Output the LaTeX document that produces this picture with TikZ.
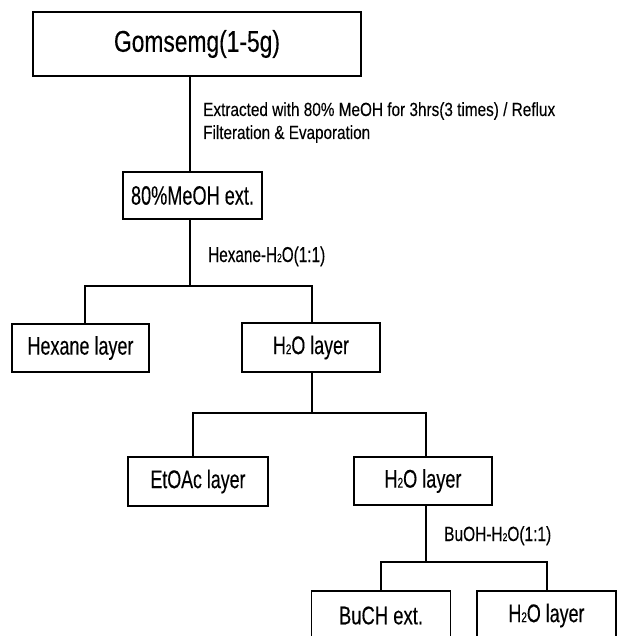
\documentclass[tikz,border=0pt]{standalone}
\usepackage{fontspec}
\setmainfont[FakeBold=0.3]{Liberation Sans}
\usepackage{graphicx}
\newcommand{\fw}[3]{\resizebox{#1pt}{\height}{\fontsize{#2}{#2}\selectfont #3}}
\newcommand{\hto}{H\scalebox{0.55}{2}O}
\tikzset{
  box/.style={draw, line width=1.3pt, inner sep=0pt, minimum height=48pt},
  conn/.style={line width=1.2pt},
  lab/.style={anchor=base west, inner sep=0pt}
}
\begin{document}
\begin{tikzpicture}[x=1pt,y=-1pt]
\useasboundingbox (0,0) rectangle (617,636);
% boxes
\node[box, minimum width=328pt, minimum height=64pt] (g) at (197,44) {\fw{166}{30}{Gomsemg(1-5g)}};
\node[box, minimum width=139pt, minimum height=47pt] (m) at (192.5,195.5) {\fw{123}{26.5}{80\%MeOH ext.}};
\node[box, minimum width=137pt] (hx) at (80.5,348) {\fw{106}{25.5}{Hexane layer}};
\node[box, minimum width=138pt, minimum height=49pt] (h1) at (311,347.5) {\fw{76}{25.5}{\hto{} layer}};
\node[box, minimum width=140pt, minimum height=49pt] (et) at (198,481.5) {\fw{95}{25.5}{EtOAc layer}};
\node[box, minimum width=138pt] (h2) at (423,481) {\fw{77}{25.5}{\hto{} layer}};
\node[box, minimum width=139pt, minimum height=49pt] (bu) at (381,615.5) {\fw{84}{25.5}{BuCH ext.}};
\node[box, minimum width=139pt, minimum height=49pt] (h3) at (546.5,615.5) {\fw{76}{25.5}{\hto{} layer}};
% labels
\node[lab] (e1) at (203,116) {\fw{352}{19}{Extracted with 80\% MeOH for 3hrs(3 times) / Reflux}};
\node[lab] (e2) at (203,139) {\fw{167}{19}{Filteration \& Evaporation}};
\node[lab] (hxl) at (208,262) {\fw{117}{21.5}{Hexane-\hto(1:1)}};
\node[lab] (bul) at (444,541) {\fw{107}{20.5}{BuOH-\hto(1:1)}};
% junctions
\coordinate (s1) at (190,286);
\coordinate (l1) at (85,286);
\coordinate (r1) at (312,286);
\coordinate (s2) at (312,413);
\coordinate (l2) at (193,413);
\coordinate (r2) at (426,413);
\coordinate (s3) at (426,562);
\coordinate (l3) at (381,562);
\coordinate (r3) at (547,562);
% connectors
\draw[conn] (g.south -| s1) -- (m.north -| s1);
\draw[conn] (m.south -| s1) -- (s1);
\draw[conn] (hx.north -| l1) -- (l1) -- (r1) -- (h1.north -| r1);
\draw[conn] (h1.south -| s2) -- (s2);
\draw[conn] (et.north -| l2) -- (l2) -- (r2) -- (h2.north -| r2);
\draw[conn] (h2.south -| s3) -- (s3);
\draw[conn] (bu.north -| l3) -- (l3) -- (r3) -- (h3.north -| r3);
\end{tikzpicture}
\end{document}
